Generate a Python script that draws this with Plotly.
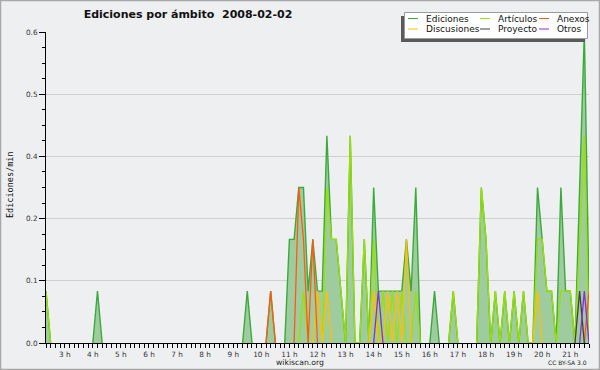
import plotly.graph_objects as go

# ---- data: 10-minute bins from 02:20 to 21:40 (117 bins), edits/min ----
N_BINS = 117
START_HOUR = 2 + 20 / 60
BIN_HOURS = 10 / 60

ediciones_pts = {0: 0.1, 11: 0.1, 43: 0.1, 48: 0.1,
                 52: 0.2, 53: 0.2, 54: 0.3, 55: 0.3, 56: 0.1, 57: 0.2, 58: 0.1, 59: 0.1,
                 60: 0.4, 61: 0.2, 62: 0.2, 63: 0.1, 65: 0.4, 68: 0.2,
                 70: 0.3, 71: 0.1, 72: 0.1, 73: 0.1, 74: 0.1, 75: 0.1, 76: 0.1,
                 77: 0.2, 78: 0.1, 79: 0.3, 83: 0.1, 87: 0.1,
                 93: 0.3, 94: 0.2, 96: 0.1, 98: 0.1, 100: 0.1, 102: 0.1,
                 105: 0.3, 106: 0.2, 107: 0.1, 108: 0.1,
                 110: 0.3, 111: 0.1, 112: 0.1, 114: 0.3, 115: 0.6, 116: 0.1}
articulos_pts = {0: 0.1, 55: 0.1, 60: 0.3, 61: 0.2, 62: 0.2, 63: 0.1, 65: 0.4, 68: 0.2,
                 70: 0.2, 72: 0.1, 74: 0.1, 76: 0.1, 79: 0.1, 87: 0.1,
                 93: 0.3, 94: 0.2, 96: 0.1, 98: 0.1, 100: 0.1, 102: 0.1,
                 105: 0.2, 106: 0.2, 107: 0.1, 108: 0.1, 110: 0.1, 111: 0.1, 112: 0.1,
                 114: 0.2, 115: 0.4}
anexos_pts = {48: 0.1, 54: 0.3, 55: 0.2, 57: 0.2, 116: 0.1}
discusiones_pts = {58: 0.1, 60: 0.1, 70: 0.1, 73: 0.1, 75: 0.1, 77: 0.2, 105: 0.1}
proyecto_pts = {114: 0.1}
otros_pts = {71: 0.1, 115: 0.1}

series_names = ["Ediciones", "Artículos", "Anexos", "Discusiones", "Proyecto", "Otros"]
series_colors = ["#3aab3a", "#9be000", "#ff5a14", "#ffbf00", "#404040", "#8a2be2"]
series_points = [ediciones_pts, articulos_pts, anexos_pts, discusiones_pts, proyecto_pts, otros_pts]

hour_ticks = list(range(3, 22))
hour_labels = [f"{h} h" for h in hour_ticks]
y_tickvals = [0, 0.12, 0.24, 0.36, 0.48, 0.6]
y_ticklabels = ["0.0", "0.1", "0.2", "0.4", "0.5", "0.6"]

x = [START_HOUR + i * BIN_HOURS for i in range(N_BINS)]


def full(pts):
    """Series values for every bin; runs of zeros (hidden under the axis) become gaps."""
    vals = [pts.get(i, 0.0) for i in range(N_BINS)]
    out = []
    for i, v in enumerate(vals):
        left = vals[i - 1] if i > 0 else 0.0
        right = vals[i + 1] if i < N_BINS - 1 else 0.0
        out.append(None if (v == 0 and left == 0 and right == 0) else v)
    return out


fig = go.Figure()
draw_order = [0, 1, 3, 2, 4, 5]
for k in draw_order:
    if k == 0:
        fig.add_trace(go.Scatter(x=x, y=full(series_points[k]), mode="lines",
                                 line=dict(color=series_colors[k], width=1.4),
                                 fill="tozeroy", fillcolor="#9fcc9f", connectgaps=False,
                                 name=series_names[k], showlegend=False, hoverinfo="skip"))
    else:
        fig.add_trace(go.Scatter(x=x, y=full(series_points[k]), mode="lines",
                                 line=dict(color=series_colors[k], width=1.3), connectgaps=False,
                                 name=series_names[k], showlegend=False, hoverinfo="skip"))

W, H = 600, 370
ML, MR, MT, MB = 46, 11, 32, 27
PW, PH = W - ML - MR, H - MT - MB


def px(xp):
    return (xp - ML) / PW


def py(yp):
    return (H - MB - yp) / PH


shapes = []
annotations = []
# outer frame
shapes.append(dict(type="rect", xref="paper", yref="paper", x0=px(0.5), x1=px(599.5), y0=py(369.5), y1=py(0.5),
                   line=dict(color="#a8a8a8", width=1.5), fillcolor="rgba(0,0,0,0)", layer="above"))
# legend shadow + box
shapes.append(dict(type="rect", xref="paper", yref="paper", x0=px(401), x1=px(585), y0=py(42), y1=py(16),
                   line=dict(width=0), fillcolor="#5a5a5a", layer="above"))
shapes.append(dict(type="rect", xref="paper", yref="paper", x0=px(404.5), x1=px(587.5), y0=py(38.5), y1=py(12.5),
                   line=dict(color="#9a9a9a", width=1), fillcolor="#ffffff", layer="above"))
leg_cols = [(408, 424), (480, 496), (539, 555)]
leg_rows = [18.5, 29]
leg_layout = [(0, 0), (0, 1), (0, 2), (1, 0), (1, 1), (1, 2)]
leg_series = [0, 1, 2, 3, 4, 5]
for (r, c), k in zip(leg_layout, leg_series):
    lx, tx = leg_cols[c]
    yy = leg_rows[r]
    shapes.append(dict(type="line", xref="paper", yref="paper", x0=px(lx), x1=px(lx + 10), y0=py(yy), y1=py(yy),
                       line=dict(color=series_colors[k], width=1), layer="above"))
    annotations.append(dict(xref="paper", yref="paper", x=px(tx), y=py(yy + 0.5), text=series_names[k],
                            showarrow=False, xanchor="left", yanchor="middle",
                            font=dict(family="DejaVu Sans", size=9, color="#111111")))

annotations.append(dict(xref="paper", yref="paper", x=px(300), y=py(362), text="wikiscan.org", showarrow=False,
                        xanchor="center", yanchor="middle", font=dict(family="DejaVu Sans", size=7.7, color="#222222")))
annotations.append(dict(xref="paper", yref="paper", x=px(589), y=py(362), text="CC BY-SA 3.0", showarrow=False,
                        xanchor="right", yanchor="middle", font=dict(family="DejaVu Sans", size=6, color="#222222")))
annotations.append(dict(xref="paper", yref="paper", x=px(10), y=py(185), text="Ediciones/min", showarrow=False,
                        textangle=-90, xanchor="center", yanchor="middle",
                        font=dict(family="DejaVu Sans Mono", size=8.5, color="#111111")))

fig.update_layout(
    width=W, height=H,
    margin=dict(l=ML, r=MR, t=MT, b=MB),
    paper_bgcolor="#eeeff1", plot_bgcolor="#eeeff1",
    title=dict(text="<b>Ediciones por ámbito \u00a02008-02-02</b>", xref="container", yref="container",
               x=188 / W, xanchor="center", y=1 - 14 / H, yanchor="middle",
               font=dict(family="DejaVu Sans", size=11, color="#111111")),
    shapes=shapes, annotations=annotations, showlegend=False,
)
fig.update_xaxes(range=[START_HOUR, START_HOUR + (N_BINS - 1) * BIN_HOURS],
                 tickvals=hour_ticks, ticktext=hour_labels, ticks="outside", ticklen=4, tickwidth=1,
                 tickcolor="#000000", showline=True, linecolor="#000000", linewidth=1, showgrid=False,
                 zeroline=False, layer="above traces",
                 tickfont=dict(family="DejaVu Sans", size=7.3, color="#333333"),
                 minor=dict(dtick=BIN_HOURS, tick0=START_HOUR, ticks="outside", ticklen=4,
                            tickcolor="#000000", showgrid=False))
fig.update_yaxes(range=[0, 0.6], tickvals=y_tickvals, ticktext=y_ticklabels, ticks="outside", ticklen=6,
                 tickwidth=1, tickcolor="#000000", showline=True, linecolor="#000000", linewidth=1,
                 showgrid=True, gridcolor="#cfcfcf", gridwidth=1, zeroline=False, layer="above traces",
                 tickfont=dict(family="DejaVu Sans", size=7.3, color="#333333"),
                 minor=dict(dtick=0.03, tick0=0, ticks="outside", ticklen=3, tickcolor="#000000", showgrid=False))

fig.write_html("out.html", config={"displayModeBar": False},
               post_script="document.body.style.margin='0px';document.body.style.padding='0px';")
